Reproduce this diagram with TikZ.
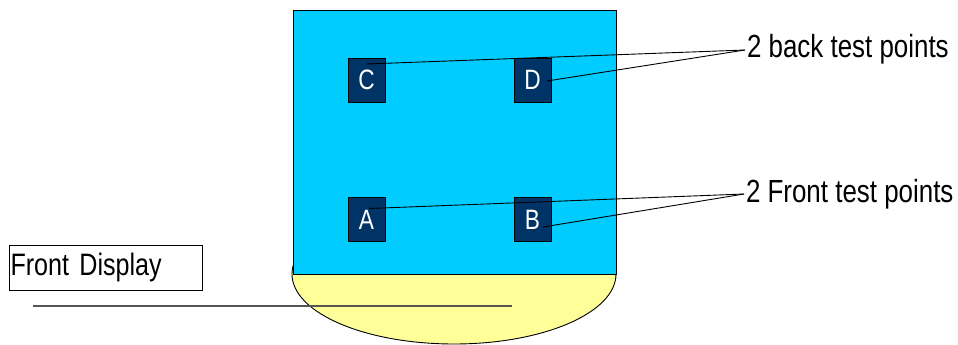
\documentclass[tikz,border=0pt]{standalone}
\usepackage{fontspec}
\setmainfont{Liberation Sans}[FakeStretch=0.81]
\begin{document}
\begin{tikzpicture}[x=1pt,y=-1pt,
  every node/.style={inner sep=0pt, outer sep=0pt},
  testpoint/.style={draw=black, line width=0.8pt, fill=navyblue, text=white,
    minimum width=37pt, minimum height=44pt, font=\fontsize{28}{28}\selectfont},
  caption/.style={anchor=west, font=\fontsize{32}{32}\selectfont},
  leader/.style={line width=0.9pt, black}]
\definecolor{skyblue}{HTML}{00CCFF}
\definecolor{paleyellow}{HTML}{FFFF99}
\definecolor{navyblue}{HTML}{003366}
\definecolor{leadgrey}{HTML}{555555}
\useasboundingbox (0,0) rectangle (958,345);

% base of the unit
\draw[line width=0.9pt, fill=paleyellow] (454,274) ellipse [x radius=162pt, y radius=70pt];
% top plate
\node[draw=black, line width=0.9pt, fill=skyblue, minimum width=323pt, minimum height=264pt] (plate) at (454.5,142) {};

% test points
\node[testpoint] (C) at (366.5,80) {C};
\node[testpoint] (D) at (532.5,80) {D};
\node[testpoint] (A) at (366.5,219.5) {A};
\node[testpoint] (B) at (532.5,219.5) {B};

% captions
\node[caption] (back) at (747,49) {2 back test points};
\node[caption] (front) at (746,194) {2 Front test points};

\draw[leader] ([yshift=-6pt]C.north) -- ([xshift=-2pt,yshift=-1pt]back.west);
\draw[leader] ([xshift=-4pt,yshift=-1pt]D.east) -- ([xshift=-2pt,yshift=-1pt]back.west);
\draw[leader] ([xshift=2.5pt,yshift=-11pt]A.north) -- ([xshift=-2pt]front.west);
\draw[leader] ([xshift=-8pt,yshift=-7.5pt]B.east) -- ([xshift=-2pt]front.west);

% display label
\node[draw=black, line width=0.9pt, minimum width=193pt, minimum height=45pt,
  text width=190pt, align=left, font=\fontsize{31}{31}\selectfont] (display) at (105.5,267.5) {Front Display};
\coordinate (leadstart) at (33,306);
\coordinate (leadend) at (512,306);
\draw[line width=1.2pt, leadgrey] (leadstart) -- (leadend);
\end{tikzpicture}
\end{document}
